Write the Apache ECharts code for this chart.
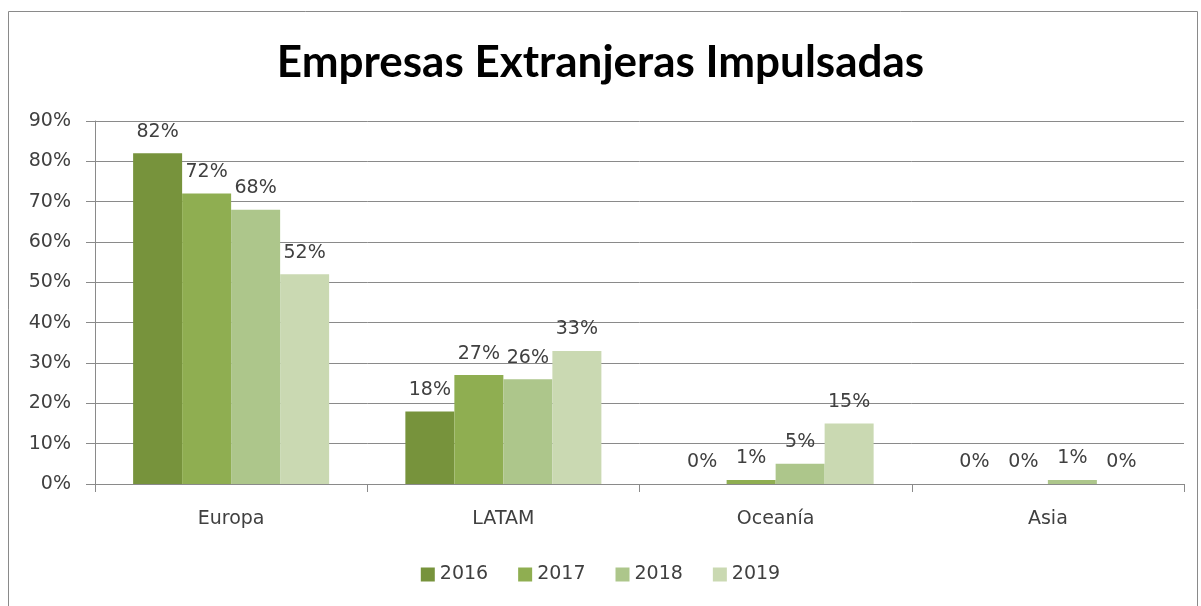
<!DOCTYPE html>
<html>
<head>
<meta charset="utf-8">
<script src="https://cdn.jsdelivr.net/npm/echarts@6/dist/echarts.min.js"></script>
<style>
  html, body { margin: 0; padding: 0; background: #fff; }
  #main { width: 1201px; height: 606px; }
</style>
</head>
<body>
<div id="main"></div>
<script>
var regions = ['Europa', 'LATAM', 'Oceanía', 'Asia'];
var years = ['2016', '2017', '2018', '2019'];
var v2016 = [82, 18, 0, 0];
var v2017 = [72, 27, 1, 0];
var v2018 = [68, 26, 5, 1];
var v2019 = [52, 33, 15, 0];
var colors = ['#77933c', '#8fae51', '#adc68b', '#cad9b2'];

var myChart = echarts.init(document.getElementById('main'));
var allValues = [v2016, v2017, v2018, v2019];
var labelFont = 'DejaVu Sans';

var series = years.map(function (y, i) {
  return {
    name: y,
    type: 'bar',
    data: allValues[i],
    barGap: 0,
    barCategoryGap: '28%',
    itemStyle: { color: colors[i] },
    label: {
      show: true,
      position: 'top',
      distance: 12,
      formatter: '{c}%',
      color: '#404040',
      fontFamily: labelFont,
      fontSize: 19
    }
  };
});

var option = {
  animation: false,
  color: colors,
  title: {
    text: 'Empresas Extranjeras Impulsadas',
    left: 'center',
    top: 36,
    textStyle: {
      fontFamily: 'Lato',
      fontWeight: 'bold',
      fontSize: 44,
      color: '#000'
    }
  },
  graphic: [{
    type: 'rect',
    shape: { x: 8.5, y: 11.5, width: 1189, height: 620 },
    style: { fill: 'none', stroke: '#8a8a8a', lineWidth: 1 },
    silent: true,
    z: -1
  }],
  legend: {
    bottom: 17,
    left: 'center',
    itemWidth: 14,
    itemHeight: 14,
    itemGap: 30,
    icon: 'rect',
    textStyle: { fontFamily: labelFont, fontSize: 19, color: '#404040' },
    data: years
  },
  grid: { left: 95, right: 17, top: 121, bottom: 122 },
  xAxis: {
    type: 'category',
    data: regions,
    axisLine: { lineStyle: { color: '#8a8a8a' } },
    axisTick: { show: true, length: 8, lineStyle: { color: '#8a8a8a' } },
    axisLabel: { margin: 26, fontFamily: labelFont, fontSize: 19, color: '#404040' }
  },
  yAxis: {
    type: 'value',
    min: 0,
    max: 90,
    interval: 10,
    axisLine: { show: true, lineStyle: { color: '#8a8a8a' } },
    axisTick: { show: true, length: 9, lineStyle: { color: '#8a8a8a' } },
    axisLabel: { formatter: '{value}%', margin: 24, fontFamily: labelFont, fontSize: 19, color: '#404040' },
    splitLine: { lineStyle: { color: '#8a8a8a' } }
  },
  series: series
};
myChart.setOption(option);
</script>
</body>
</html>
